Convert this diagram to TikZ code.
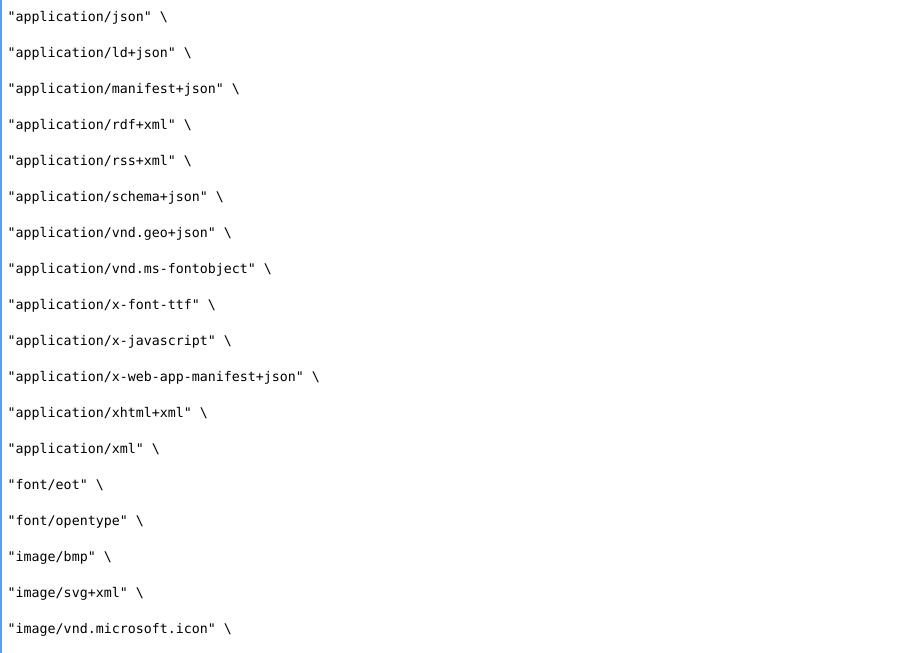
\documentclass[tikz,border=0pt]{standalone}
\usepackage{fontspec}
\setmonofont{DejaVu Sans Mono}
\definecolor{edgeblue}{RGB}{90,160,240}
\begin{document}
\begin{tikzpicture}[x=1pt,y=1pt,
  codeline/.style={anchor=base west,inner sep=0pt,font=\ttfamily\fontsize{13.3}{16}\selectfont}]
\useasboundingbox (0,0) rectangle (905,653);
\fill[white] (0,0) rectangle (905,653);
\fill[edgeblue] (0,0) rectangle (1.6,653);
\foreach \t [count=\i from 0] in {
  "application/json" \textbackslash,
  "application/ld+json" \textbackslash,
  "application/manifest+json" \textbackslash,
  "application/rdf+xml" \textbackslash,
  "application/rss+xml" \textbackslash,
  "application/schema+json" \textbackslash,
  "application/vnd.geo+json" \textbackslash,
  "application/vnd.ms-fontobject" \textbackslash,
  "application/x-font-ttf" \textbackslash,
  "application/x-javascript" \textbackslash,
  "application/x-web-app-manifest+json" \textbackslash,
  "application/xhtml+xml" \textbackslash,
  "application/xml" \textbackslash,
  "font/eot" \textbackslash,
  "font/opentype" \textbackslash,
  "image/bmp" \textbackslash,
  "image/svg+xml" \textbackslash,
  "image/vnd.microsoft.icon" \textbackslash}
  \node[codeline] (l\i) at (7.5, 653-21.5-36*\i) {\t};
\end{tikzpicture}
\end{document}
